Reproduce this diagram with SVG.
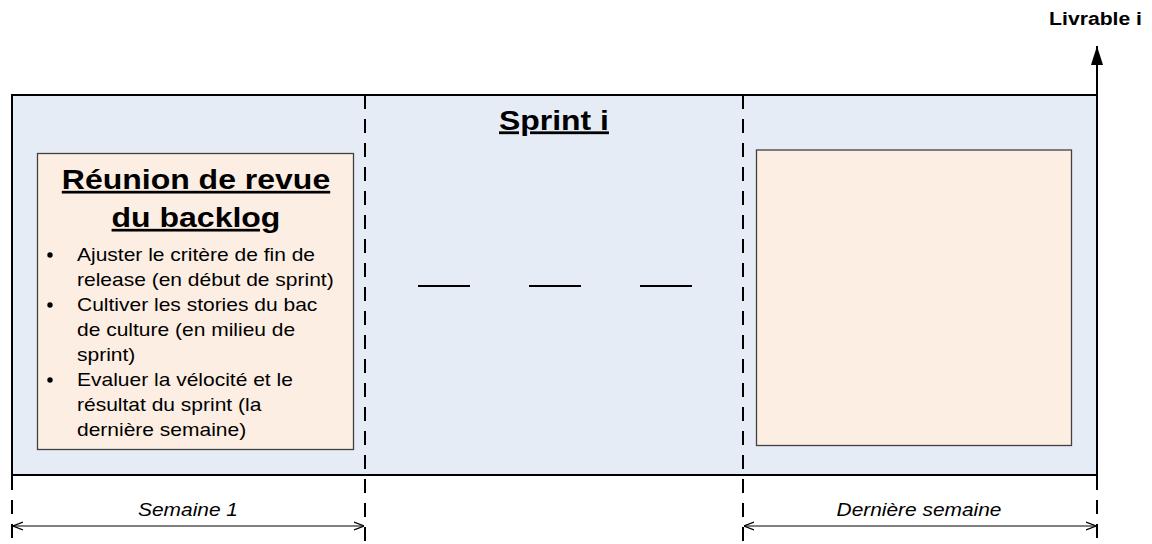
<svg xmlns="http://www.w3.org/2000/svg" width="1152" height="544" viewBox="0 0 1152 544">
<style>
text{font-family:"Liberation Sans",Arial,sans-serif;fill:#000}
.title{font-size:27px;font-weight:bold;text-decoration:underline}
.item{font-size:19px}
.lab{font-size:19px;font-style:italic}
.dash{stroke:#000;stroke-width:2;stroke-dasharray:14 10;fill:none}
.box{fill:#FDEEE3;stroke:#404040;stroke-width:1.3}
</style>
<defs>
<marker id="open" viewBox="0 0 10 10" refX="10" refY="5" markerWidth="10" markerHeight="10" markerUnits="userSpaceOnUse" orient="auto-start-reverse">
<path d="M0,1 L10,5 L0,9" fill="none" stroke="#000" stroke-width="1.2"/>
</marker>
</defs>
<g id="sprint">
<rect x="12" y="95" width="1085" height="380" fill="#E6ECF6" stroke="#000" stroke-width="2"/>
<text class="title" style="font-size:28px" transform="translate(554,129.5) scale(1.14,1)" text-anchor="middle">Sprint i</text>
</g>
<g id="connectors">
<line class="dash" x1="365" y1="95" x2="365" y2="544"/>
<line class="dash" x1="743" y1="95" x2="743" y2="544"/>
<line class="dash" x1="12" y1="476" x2="12" y2="544"/>
<line class="dash" x1="1097" y1="476" x2="1097" y2="544"/>
<path d="M1097,95 L1097,46" stroke="#000" stroke-width="2" fill="none"/>
<path d="M1091,65 L1097,46 L1103,65 Z" fill="#000"/>
<line x1="13" y1="526" x2="364" y2="526" stroke="#000" stroke-width="1.2" marker-start="url(#open)" marker-end="url(#open)"/>
<line x1="744" y1="526" x2="1096" y2="526" stroke="#000" stroke-width="1.2" marker-start="url(#open)" marker-end="url(#open)"/>
<line x1="418" y1="286" x2="470" y2="286" stroke="#000" stroke-width="2"/>
<line x1="529" y1="286" x2="581" y2="286" stroke="#000" stroke-width="2"/>
<line x1="640" y1="286" x2="692" y2="286" stroke="#000" stroke-width="2"/>
</g>
<g id="reunion">
<rect class="box" x="37.5" y="153.5" width="316" height="296"/>
<text class="title" transform="translate(196,189) scale(1.185,1)" text-anchor="middle">Réunion de revue</text>
<text class="title" transform="translate(196,227) scale(1.185,1)" text-anchor="middle">du backlog</text>
<circle cx="50" cy="255" r="2.7" fill="#000"/>
<circle cx="50" cy="305" r="2.7" fill="#000"/>
<circle cx="50" cy="380" r="2.7" fill="#000"/>
<text class="item" transform="translate(77,260.7) scale(1.105,1)">Ajuster le critère de fin de</text>
<text class="item" transform="translate(77,285.7) scale(1.105,1)">release (en début de sprint)</text>
<text class="item" transform="translate(77,310.7) scale(1.105,1)">Cultiver les stories du bac</text>
<text class="item" transform="translate(77,335.7) scale(1.105,1)">de culture (en milieu de</text>
<text class="item" transform="translate(77,360.7) scale(1.105,1)">sprint)</text>
<text class="item" transform="translate(77,385.7) scale(1.105,1)">Evaluer la vélocité et le</text>
<text class="item" transform="translate(77,410.7) scale(1.105,1)">résultat du sprint (la</text>
<text class="item" transform="translate(77,435.7) scale(1.105,1)">dernière semaine)</text>
</g>
<g id="derniere">
<rect class="box" x="756.5" y="150" width="315" height="295.5"/>
</g>
<g id="livrable">
<text transform="translate(1142,25) scale(1.21,1)" text-anchor="end" style="font-size:17.5px;font-weight:bold">Livrable i</text>
</g>
<g id="labels">
<text class="lab" transform="translate(188,516) scale(1.1,1)" text-anchor="middle">Semaine 1</text>
<text class="lab" transform="translate(919,516) scale(1.1,1)" text-anchor="middle">Dernière semaine</text>
</g>
</svg>
